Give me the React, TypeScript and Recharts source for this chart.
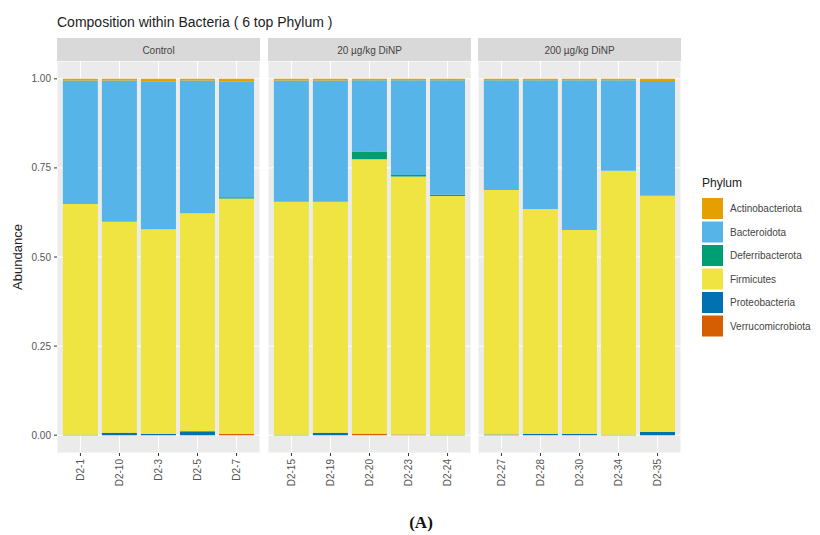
import React from 'react';
import { BarChart, Bar, XAxis, YAxis, CartesianGrid } from 'recharts';

const samples = ['D2-1', 'D2-10', 'D2-3', 'D2-5', 'D2-7', 'D2-15', 'D2-19', 'D2-20', 'D2-23', 'D2-24', 'D2-27', 'D2-28', 'D2-30', 'D2-34', 'D2-35'];
const sampleGroup = [0, 0, 0, 0, 0, 1, 1, 1, 1, 1, 2, 2, 2, 2, 2];
const groups = ['Control', '20 µg/kg DiNP', '200 µg/kg DiNP'];

const phyla = ['Actinobacteriota', 'Bacteroidota', 'Deferribacterota', 'Firmicutes', 'Proteobacteria', 'Verrucomicrobiota'];
const phylumColors = ['#E69F00', '#56B4E9', '#009E73', '#F0E442', '#0072B2', '#D55E00'];

const actinobacteriota = [0.005, 0.005, 0.007, 0.005, 0.008, 0.005, 0.005, 0.004, 0.004, 0.004, 0.004, 0.004, 0.004, 0.004, 0.006];
const bacteroidota = [0.346, 0.396, 0.415, 0.372, 0.324, 0.340, 0.340, 0.200, 0.266, 0.321, 0.308, 0.361, 0.420, 0.254, 0.322];
const deferribacterota = [0.000, 0.000, 0.000, 0.000, 0.004, 0.000, 0.000, 0.022, 0.004, 0.004, 0.000, 0.000, 0.000, 0.000, 0.000];
const firmicutes = [0.648, 0.592, 0.575, 0.612, 0.661, 0.654, 0.648, 0.770, 0.724, 0.670, 0.686, 0.632, 0.573, 0.741, 0.663];
const proteobacteria = [0.001, 0.007, 0.003, 0.011, 0.000, 0.001, 0.007, 0.001, 0.001, 0.001, 0.002, 0.003, 0.003, 0.001, 0.009];
const verrucomicrobiota = [0.000, 0.000, 0.000, 0.000, 0.003, 0.000, 0.000, 0.003, 0.001, 0.000, 0.000, 0.000, 0.000, 0.000, 0.000];

const yTicks = [0, 0.25, 0.5, 0.75, 1];

const seriesValues = [actinobacteriota, bacteroidota, deferribacterota, firmicutes, proteobacteria, verrucomicrobiota];

const rows = samples.map((s, i) => {
  const r: any = { sample: s, group: sampleGroup[i] };
  phyla.forEach((p, k) => {
    r[p] = seriesValues[k][i];
  });
  return r;
});

// bottom-to-top stacking order (ggplot puts first level on top)
const stackOrder = [5, 4, 3, 2, 1, 0];

const panelLeft = [57, 268, 478];
const panelW = 203;
const panelTop = 61;
const panelH = 392;
const xAxisH = 50;
const yAxisW = 50;

const XTick = (props: any) => {
  const { x, y, payload } = props;
  return (
    <g transform={`translate(${x},${y})`}>
      <text transform="rotate(-90)" textAnchor="end" dominantBaseline="central" fill="#555" fontSize={10}>
        {payload.value}
      </text>
    </g>
  );
};

function Panel({ gi }: { gi: number }) {
  const data = rows.filter((r) => r.group === gi);
  const first = gi === 0;
  return (
    <div style={{ position: 'absolute', left: first ? panelLeft[gi] - yAxisW : panelLeft[gi], top: panelTop }}>
      <BarChart
        width={first ? panelW + yAxisW : panelW}
        height={panelH + xAxisH}
        data={data}
        margin={{ top: 0, right: 0, bottom: 0, left: 0 }}
        barCategoryGap="5%"
      >
        <CartesianGrid fill="#EBEBEB" stroke="#FFFFFF" strokeWidth={1} />
        <XAxis
          dataKey="sample"
          interval={0}
          padding={{ left: panelW / 52, right: panelW / 52 }}
          height={xAxisH}
          axisLine={false}
          tickLine={{ stroke: '#333' }}
          tickSize={3}
          tickMargin={3}
          tick={<XTick />}
        />
        <YAxis
          hide={!first}
          width={yAxisW}
          type="number"
          domain={[-0.05, 1.05]}
          allowDataOverflow
          ticks={yTicks}
          tickFormatter={(v: number) => v.toFixed(2)}
          axisLine={false}
          tickLine={{ stroke: '#333' }}
          tickSize={3}
          tickMargin={3}
          tick={{ fill: '#555', fontSize: 10 }}
        />
        {stackOrder.map((k) => (
          <Bar key={phyla[k]} dataKey={phyla[k]} stackId="a" fill={phylumColors[k]} isAnimationActive={false} />
        ))}
      </BarChart>
    </div>
  );
}

export default function App() {
  const legendTop = 198;
  const legendStep = 23.5;
  return (
    <div
      style={{
        position: 'absolute',
        left: 0,
        top: 0,
        width: 820,
        height: 535,
        background: '#fff',
        fontFamily: '"Liberation Sans", Arial, sans-serif',
      }}
    >
      {groups.map((g, gi) => (
        <Panel key={g} gi={gi} />
      ))}
      <svg width={820} height={535} style={{ position: 'absolute', left: 0, top: 0, pointerEvents: 'none' }}>
        <text x={57} y={27} fontSize={14} fill="#222">
          Composition within Bacteria ( 6 top Phylum )
        </text>
        {groups.map((g, gi) => (
          <g key={g}>
            <rect x={panelLeft[gi]} y={38} width={panelW} height={23} fill="#D9D9D9" />
            <text x={panelLeft[gi] + panelW / 2} y={50} textAnchor="middle" dominantBaseline="central" fontSize={10} fill="#444">
              {g}
            </text>
          </g>
        ))}
        <text
          transform={`translate(17,${panelTop + panelH / 2}) rotate(-90)`}
          textAnchor="middle"
          dominantBaseline="central"
          fontSize={13}
          fill="#222"
        >
          Abundance
        </text>
        <text x={702} y={187} fontSize={12} fill="#222">
          Phylum
        </text>
        {phyla.map((p, k) => (
          <g key={p}>
            <rect x={702} y={legendTop + k * legendStep} width={21} height={21} fill={phylumColors[k]} />
            <text x={730} y={legendTop + k * legendStep + 10.5} dominantBaseline="central" fontSize={10} fill="#444">
              {p}
            </text>
          </g>
        ))}
        <text x={421} y={528} textAnchor="middle" fontSize={17} fontWeight="bold" fontFamily='"Liberation Serif", "Times New Roman", serif' fill="#111">
          (A)
        </text>
      </svg>
    </div>
  );
}
